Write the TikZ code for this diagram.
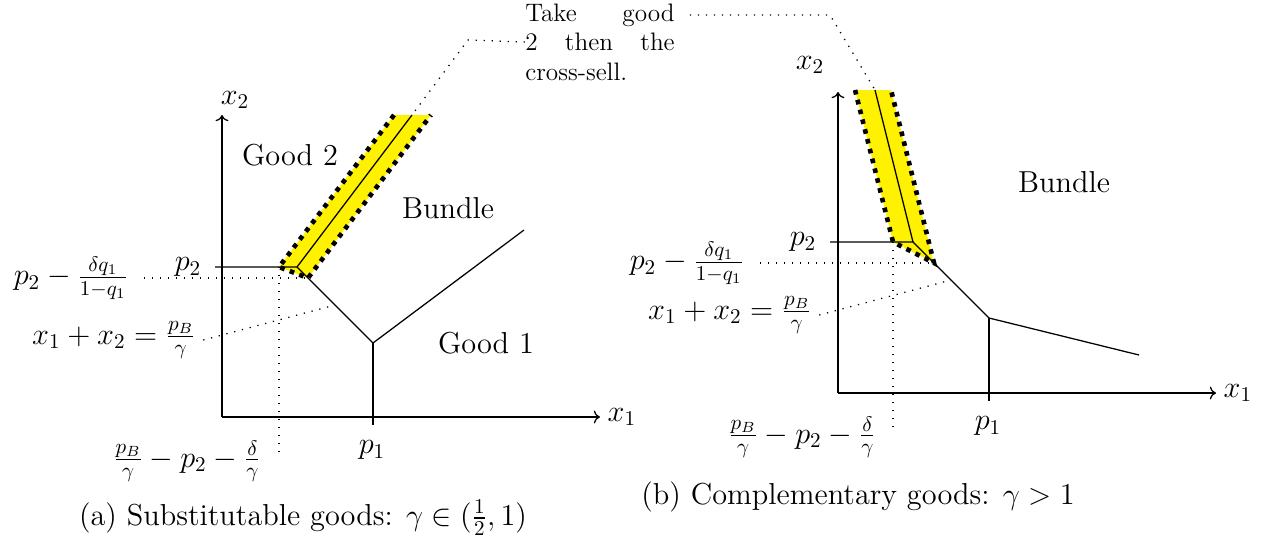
\documentclass[tikz,border=0pt]{standalone}
\usepackage{amsmath, amssymb}
\usetikzlibrary{arrows.meta, positioning, calc}
\tikzset{
  axis/.style={->, line width=0.6pt},
  border/.style={line width=0.6pt},
  guide/.style={line width=0.6pt, dash pattern=on 0.6pt off 3.2pt},
  band/.style={fill=yellow},
  bandedge/.style={line width=2.2pt, dash pattern=on 2.2pt off 2.6pt},
  region/.style={font=\Large},
  lbl/.style={font=\Large},
  caption/.style={font=\Large},
  note/.style={inner sep=0pt, text width=71pt, align=left, font=\large},
}

\begin{document}
\begin{tikzpicture}[x=0.0167cm, y=0.0167cm]
  \useasboundingbox (0,0) rectangle (1285,-546);

  % (a) substitutable goods
  \begin{scope}[shift={(222,-417)}]
    \coordinate (a-o) at (0,0);
    \coordinate (a-c) at (75,150);
    \coordinate (a-d) at (151,74);
    \coordinate (a-t) at (190,302);
    \coordinate (a-l) at (57,150);
    \coordinate (a-r) at (86,139);
    \coordinate (a-m) at ($(a-c)!0.5!(a-d)$);
    \coordinate (a-v) at (57,-37);
    \coordinate (a-e) at (302,187);
    \coordinate (a-f) at (151,-8);
    \coordinate (a-g) at (-7,150);

    \fill[band] (a-l) -- (172,302) -- (209,302) -- (a-r) -- cycle;
    \draw[axis] (a-o) -- (378,0) node[lbl, right] (a-x1) {$x_1$};
    \draw[axis] (a-o) -- (0,302);
    \node[lbl] (a-x2) at (13,317) {$x_2$};

    \draw[border] (a-g) -- (a-c) -- (a-d) -- (a-e);
    \draw[border] (a-c) -- (a-t);
    \draw[border] (a-d) -- (a-f);
    \draw[bandedge] (172,302) -- (a-l) -- (a-r) -- (209,302);

    \node[region] (a-good2) at (68,262) {Good 2};
    \node[region] (a-bundle) at (226,209) {Bundle};
    \node[region] (a-good1) at (264,74) {Good 1};

    \node[lbl] (a-p2) at (-34,150) {$p_2$};
    \node[lbl] (a-dq) at (-151,139) {$p_2-\frac{\delta q_1}{1-q_1}$};
    \node[lbl] (a-sum) at (-108,77) {$x_1+x_2=\frac{p_B}{\gamma}$};
    \node[lbl] (a-cut) at (-35,-44) {$\frac{p_B}{\gamma}-p_2-\frac{\delta}{\gamma}$};
    \node[lbl] (a-p1) at (150,-33) {$p_1$};

    \draw[guide, shorten <=4pt] (a-dq.east) -- (a-r);
    \draw[guide] (a-l) -- (a-v);
    \draw[guide] (a-sum.east) -- (a-m);
  \end{scope}

  % (b) complementary goods
  \begin{scope}[shift={(838,-393)}]
    \coordinate (b-o) at (0,0);
    \coordinate (b-c) at (75,151);
    \coordinate (b-d) at (151,75);
    \coordinate (b-t) at (37,303);
    \coordinate (b-l) at (55,151);
    \coordinate (b-r) at (96,130);
    \coordinate (b-m) at ($(b-c)!0.5!(b-d)$);
    \coordinate (b-v) at (55,-37);
    \coordinate (b-e) at (301,38);
    \coordinate (b-f) at (151,-8);
    \coordinate (b-g) at (-8,151);

    \fill[band] (b-l) -- (17,303) -- (53,303) -- (b-r) -- cycle;
    \draw[axis] (b-o) -- (378,0) node[lbl, right] (b-x1) {$x_1$};
    \draw[axis] (b-o) -- (0,301);
    \node[lbl] (b-x2) at (-28,328) {$x_2$};

    \draw[border] (b-g) -- (b-c) -- (b-d) -- (b-e);
    \draw[border] (b-c) -- (b-t);
    \draw[border] (b-d) -- (b-f);
    \draw[bandedge] (17,303) -- (b-l) -- (b-r) -- (53,303);

    \node[region] (b-bundle) at (226,211) {Bundle};

    \node[lbl] (b-p2) at (-35,151) {$p_2$};
    \node[lbl] (b-dq) at (-151,130) {$p_2-\frac{\delta q_1}{1-q_1}$};
    \node[lbl] (b-sum) at (-108,78) {$x_1+x_2=\frac{p_B}{\gamma}$};
    \node[lbl] (b-cut) at (-36,-44) {$\frac{p_B}{\gamma}-p_2-\frac{\delta}{\gamma}$};
    \node[lbl] (b-p1) at (150,-33) {$p_1$};

    \draw[guide, shorten <=4pt] (b-dq.east) -- (b-r);
    \draw[guide] (b-l) -- (b-v);
    \draw[guide] (b-sum.east) -- (b-m);
  \end{scope}

  % shared callout
  \node[note] (note) at (600,-42)
    {\makebox[71pt][l]{Take\hfill good}\\ \makebox[71pt][l]{2\hfill then\hfill the}\\ cross-sell.};
  \coordinate (a-bend) at (468,-40);
  \coordinate (b-bend) at (830,-15);
  \draw[guide] (note.west) -- (a-bend) -- (a-t);
  \draw[guide, shorten <=7pt] (note.east |- b-bend) -- (b-bend) -- (b-t);

  \node[caption] (a-cap) at (303,-518) {(a) Substitutable goods: $\gamma\in(\frac{1}{2},1)$};
  \node[caption] (b-cap) at (858,-497) {(b) Complementary goods: $\gamma>1$};
\end{tikzpicture}
\end{document}
